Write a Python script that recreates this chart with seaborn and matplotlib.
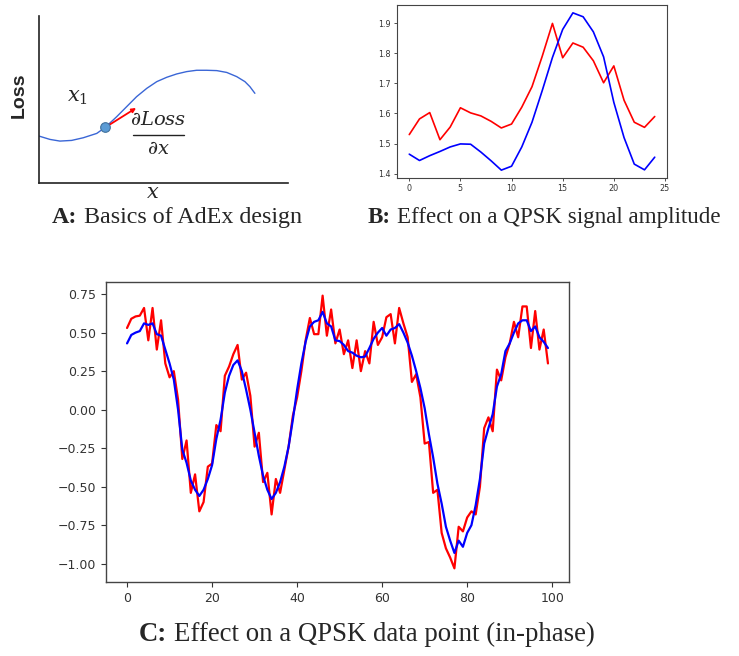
import numpy as np
import pandas as pd
import matplotlib
matplotlib.use("Agg")
import matplotlib.pyplot as plt
import seaborn as sns

# ---------------- data ----------------
# Panel A: sketch of a loss curve over x
loss_x = [0.0, 4.4, 8.4, 13.1, 17.8, 23.2, 26.6, 31.2, 35.2, 39.2, 43.3, 47.3,
          51.3, 55.3, 59.3, 63.3, 67.3, 71.4, 75.4, 79.4, 82.7, 84.7, 86.7]
loss_y = [28.1, 26.1, 25.1, 25.5, 27.1, 29.7, 33.3, 39.7, 45.7, 51.7, 56.7, 60.7,
          63.3, 65.3, 66.7, 67.5, 67.5, 67.3, 66.2, 63.7, 60.7, 57.7, 53.7]
x1_point = (26.6, 33.3)
grad_tip = (39.0, 44.9)

# Panel B: QPSK signal amplitude per step
amp_steps = list(range(25))
amp_perturbed = [1.530, 1.582, 1.603, 1.513, 1.555, 1.619, 1.602, 1.592, 1.574, 1.552,
                 1.565, 1.621, 1.689, 1.790, 1.899, 1.785, 1.834, 1.820, 1.775, 1.702,
                 1.758, 1.644, 1.571, 1.554, 1.590]
amp_clean = [1.465, 1.444, 1.460, 1.474, 1.489, 1.499, 1.498, 1.472, 1.443, 1.412,
             1.425, 1.489, 1.571, 1.676, 1.786, 1.879, 1.934, 1.921, 1.871, 1.788,
             1.637, 1.520, 1.432, 1.413, 1.455]

# Panel C: in-phase component of a QPSK data point
iq_index = list(range(100))
iq_perturbed = [0.53, 0.59, 0.605, 0.61, 0.66, 0.45, 0.66, 0.39, 0.58, 0.30,
                0.21, 0.25, 0.065, -0.32, -0.20, -0.54, -0.42, -0.66, -0.60, -0.37,
                -0.35, -0.10, -0.14, 0.22, 0.28, 0.36, 0.42, 0.195, 0.24, 0.09,
                -0.24, -0.15, -0.47, -0.41, -0.68, -0.45, -0.54, -0.39, -0.24, -0.04,
                0.08, 0.25, 0.45, 0.595, 0.49, 0.49, 0.74, 0.48, 0.65, 0.43,
                0.52, 0.36, 0.45, 0.27, 0.45, 0.25, 0.38, 0.30, 0.57, 0.42,
                0.47, 0.60, 0.62, 0.43, 0.66, 0.56, 0.47, 0.18, 0.23, 0.08,
                -0.22, -0.21, -0.54, -0.52, -0.80, -0.90, -0.96, -1.03, -0.76, -0.79,
                -0.70, -0.66, -0.68, -0.50, -0.12, -0.05, -0.14, 0.26, 0.19, 0.34,
                0.43, 0.57, 0.47, 0.67, 0.67, 0.40, 0.64, 0.39, 0.52, 0.30]
iq_clean = [0.43, 0.485, 0.50, 0.51, 0.56, 0.55, 0.56, 0.49, 0.48, 0.39,
            0.30, 0.195, 0.0, -0.26, -0.345, -0.46, -0.52, -0.56, -0.52, -0.45,
            -0.36, -0.19, -0.065, 0.11, 0.22, 0.29, 0.32, 0.25, 0.13, 0.0,
            -0.15, -0.30, -0.43, -0.52, -0.58, -0.54, -0.47, -0.37, -0.24, -0.065,
            0.13, 0.30, 0.44, 0.54, 0.57, 0.58, 0.635, 0.56, 0.54, 0.45,
            0.445, 0.42, 0.38, 0.37, 0.35, 0.34, 0.345, 0.40, 0.46, 0.50,
            0.53, 0.48, 0.52, 0.53, 0.555, 0.50, 0.435, 0.35, 0.25, 0.14,
            0.01, -0.16, -0.31, -0.48, -0.61, -0.76, -0.85, -0.93, -0.85, -0.89,
            -0.80, -0.75, -0.62, -0.45, -0.22, -0.12, -0.03, 0.15, 0.23, 0.38,
            0.43, 0.50, 0.56, 0.58, 0.58, 0.51, 0.54, 0.47, 0.44, 0.40]

captions = [
    ("A:", "Basics of AdEx design"),
    ("B:", "Effect on a QPSK signal amplitude"),
    ("C:", "Effect on a QPSK data point (in-phase)"),
]

# ---------------- style ----------------
sns.set_style("white")
plt.rcParams["font.family"] = ["DejaVu Sans"]
plt.rcParams["mathtext.fontset"] = "dejavuserif"

W, H = 739, 656
fig = plt.figure(figsize=(W / 100, H / 100), dpi=100)


def px_axes(left, top, right, bottom):
    return fig.add_axes([left / W, 1 - bottom / H, (right - left) / W, (bottom - top) / H])


spine_col = "#444444"
tick_col = "#333333"

# ---------------- panel A ----------------
axA = px_axes(39, 16, 288, 183)
sns.lineplot(x=loss_x, y=loss_y, ax=axA, color="#3a66d6", linewidth=1.0, sort=False)
axA.annotate("", xy=grad_tip, xytext=x1_point,
             arrowprops=dict(arrowstyle="-|>", color="red", lw=1.3,
                             mutation_scale=6, shrinkA=0, shrinkB=0))
axA.scatter([x1_point[0]], [x1_point[1]], s=48, color="#5b9bd5",
            edgecolor="#41719c", linewidth=0.8, zorder=5)
axA.set_xlim(0, 100)
axA.set_ylim(0, 100)
axA.set_xticks([])
axA.set_yticks([])
for s in ["top", "right"]:
    axA.spines[s].set_visible(False)
for s in ["left", "bottom"]:
    axA.spines[s].set_color("#222222")
    axA.spines[s].set_linewidth(1.2)
axA.text(15.3, 51.5, r"$x_1$", fontsize=15, ha="center", va="center")
# gradient written as a stacked fraction
axA.text(47.8, 38.0, r"$\partial Loss$", fontsize=14, ha="center", va="center")
axA.plot([37.8, 58.2], [28.7, 28.7], color="#222222", linewidth=1.0)
axA.text(47.8, 20.5, r"$\partial x$", fontsize=14, ha="center", va="center")
axA.text(-7.8, 52.5, "Loss", rotation=90, fontsize=14, fontweight="bold",
         family=["Liberation Sans", "DejaVu Sans"], ha="center", va="center")
axA.text(45.8, -5.5, r"$x$", fontsize=15, ha="center", va="center")

# ---------------- panel B ----------------
axB = px_axes(397, 5, 667, 178)
sns.lineplot(x=amp_steps, y=amp_perturbed, ax=axB, color="red", linewidth=1.2)
sns.lineplot(x=amp_steps, y=amp_clean, ax=axB, color="blue", linewidth=1.2)
axB.set_xticks([0, 5, 10, 15, 20, 25])
axB.set_yticks([1.4, 1.5, 1.6, 1.7, 1.8, 1.9])
axB.tick_params(labelsize=5.8, length=2.5, width=0.6, pad=2, colors=tick_col,
                left=True, bottom=True)
for s in axB.spines.values():
    s.set_color(spine_col)
    s.set_linewidth(0.8)

# ---------------- panel C ----------------
axC = px_axes(106, 282, 569, 582)
sns.lineplot(x=iq_index, y=iq_perturbed, ax=axC, color="red", linewidth=1.6)
sns.lineplot(x=iq_index, y=iq_clean, ax=axC, color="blue", linewidth=1.6)
axC.set_xticks([0, 20, 40, 60, 80, 100])
axC.set_yticks([-1.0, -0.75, -0.5, -0.25, 0.0, 0.25, 0.5, 0.75])
axC.tick_params(labelsize=9, length=3.5, width=0.8, pad=3.5, colors=tick_col,
                left=True, bottom=True)
for s in axC.spines.values():
    s.set_color(spine_col)
    s.set_linewidth(1.0)

for ax in (axA, axB, axC):
    ax.set_xlabel("")
    ax.set_ylabel("")

# ---------------- captions ----------------
fig.canvas.draw()
renderer = fig.canvas.get_renderer()
serif = ["Liberation Serif", "DejaVu Serif"]


def caption(cx, baseline, head, body, size=17):
    t1 = fig.text(0, 1 - baseline / H, head, fontweight="bold", family=serif,
                  fontsize=size, va="baseline", ha="left")
    t2 = fig.text(0, 1 - baseline / H, body, family=serif, fontsize=size,
                  va="baseline", ha="left")
    w1 = t1.get_window_extent(renderer).width
    w2 = t2.get_window_extent(renderer).width
    gap = 0.25 * size * 100 / 72
    x0 = cx - (w1 + gap + w2) / 2
    t1.set_x(x0 / W)
    t2.set_x((x0 + w1 + gap) / W)


caption(177, 223, *captions[0], size=17.3)
caption(544, 223, *captions[1], size=16.6)
caption(367, 641, *captions[2], size=19.3)

fig.savefig("out.png", dpi=100)
